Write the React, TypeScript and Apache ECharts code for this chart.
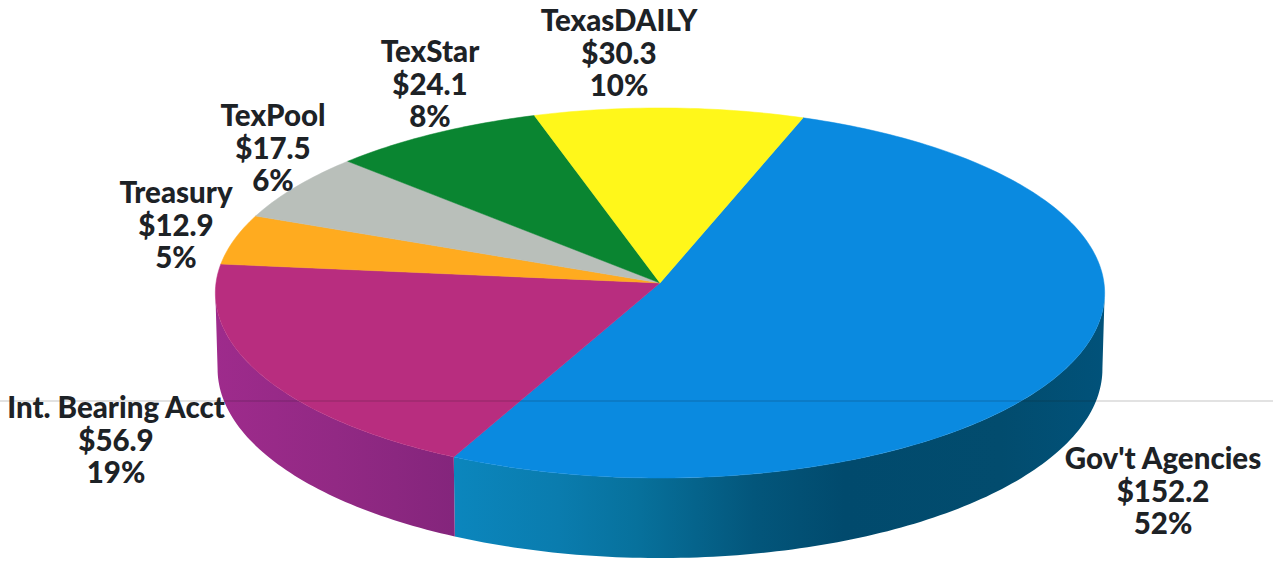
import React, { useEffect, useRef } from "react";
import * as echarts from "echarts";

// Holdings in $ millions, clockwise from the large blue slice
const categories = ["Gov't Agencies", "Int. Bearing Acct", "Treasury", "TexPool", "TexStar", "TexasDAILY"];
const amounts = [152.2, 56.9, 12.9, 17.5, 24.1, 30.3];
const amountLabels = ["$152.2", "$56.9", "$12.9", "$17.5", "$24.1", "$30.3"];
const shareLabels = ["52%", "19%", "5%", "6%", "8%", "10%"];

const faceColors = ["#0a8ae0", "#b82d7f", "#ffab1f", "#b9bfba", "#0a8531", "#fff71a"];
const labelCentres = [
  [1163, 490],
  [116, 439],
  [176, 224],
  [273, 147],
  [430, 83],
  [619, 52],
];

// Tilted-disc projection: nearer points are drawn larger
const CX = 660;
const CY = 283;
const RX = 444;
const RY = 184.5;
const PERSPECTIVE = 0.054;
const DEPTH = 75.7;
const START_DEG = 19.8;
const RIGHT_EDGE_DEG = 93;
const LEFT_EDGE_DEG = 267;

function project(deg: number, drop: number): number[] {
  const t = (deg * Math.PI) / 180;
  const u = Math.sin(t);
  const v = -Math.cos(t);
  const w = 1 - PERSPECTIVE * v;
  const shrink = drop ? 0.995 : 1;
  return [CX + (RX * shrink * u) / w, CY + (RY * v) / w + (drop * DEPTH) / w];
}

function rim(from: number, to: number, drop: number): number[][] {
  const pts: number[][] = [];
  const n = Math.max(2, Math.ceil(Math.abs(to - from)));
  for (let i = 0; i <= n; i++) pts.push(project(from + ((to - from) * i) / n, drop));
  return pts;
}

const wallFills: Record<number, any> = {
  0: new echarts.graphic.LinearGradient(
    455, 0, 1105, 0,
    [
      { offset: 0, color: "#0b86bd" },
      { offset: 0.16, color: "#0a7cae" },
      { offset: 0.28, color: "#07719c" },
      { offset: 0.46, color: "#03567b" },
      { offset: 0.6, color: "#014a6d" },
      { offset: 0.84, color: "#024c6e" },
      { offset: 1, color: "#01527a" },
    ],
    true
  ),
  1: new echarts.graphic.LinearGradient(
    215, 0, 455, 0,
    [
      { offset: 0, color: "#9e2b8c" },
      { offset: 0.5, color: "#922984" },
      { offset: 1, color: "#84257c" },
    ],
    true
  ),
};

const total = amounts.reduce((a, b) => a + b, 0);

export default function App() {
  const ref = useRef<HTMLDivElement>(null);

  useEffect(() => {
    const chart = echarts.init(ref.current!, undefined, { renderer: "svg" });

    const renderItem = (params: any, api: any) => {
      const i = params.dataIndex;
      let sum = 0;
      for (let k = 0; k < i; k++) sum += amounts[k];
      const a0 = START_DEG + (sum / total) * 360;
      const a1 = a0 + ((api.value(0) as number) / total) * 360;

      const children: any[] = [];
      const w0 = Math.max(a0, RIGHT_EDGE_DEG);
      const w1 = Math.min(a1, LEFT_EDGE_DEG);
      if (w1 > w0) {
        children.push({
          type: "polygon",
          shape: { points: [...rim(w0, w1, 0), ...rim(w1, w0, 1)] },
          style: { fill: wallFills[i], stroke: "none" },
        });
      }
      children.push({
        type: "polygon",
        shape: { points: [[CX, CY], ...rim(a0, a1, 0)] },
        style: { fill: faceColors[i], stroke: faceColors[i], lineWidth: 0.5 },
      });
      return { type: "group", children };
    };

    const labelItem = (params: any) => {
      const i = params.dataIndex;
      return {
        type: "text",
        style: {
          text: `${categories[i]}\n${amountLabels[i]}\n${shareLabels[i]}`,
          x: labelCentres[i][0],
          y: labelCentres[i][1],
          align: "center",
          verticalAlign: "middle",
          fontFamily: "Lato",
          fontWeight: 900,
          fontSize: 29.5,
          lineHeight: 32.5,
          fill: "#1d2226",
        },
      };
    };

    chart.setOption({
      animation: false,
      backgroundColor: "#ffffff",
      graphic: [
        {
          type: "line",
          z: 3,
          shape: { x1: 0, y1: 401, x2: 1273, y2: 401 },
          style: { stroke: "rgba(30,30,30,0.17)", lineWidth: 1.5 },
        },
      ],
      series: [
        {
          type: "custom",
          coordinateSystem: "none",
          renderItem,
          data: amounts,
          clip: false,
          silent: true,
          z: 2,
        },
        {
          type: "custom",
          coordinateSystem: "none",
          renderItem: labelItem,
          data: amounts,
          clip: false,
          silent: true,
          z: 5,
        },
      ],
    });
    return () => chart.dispose();
  }, []);

  return <div ref={ref} style={{ position: "fixed", left: 0, top: 0, width: 1273, height: 561 }} />;
}
